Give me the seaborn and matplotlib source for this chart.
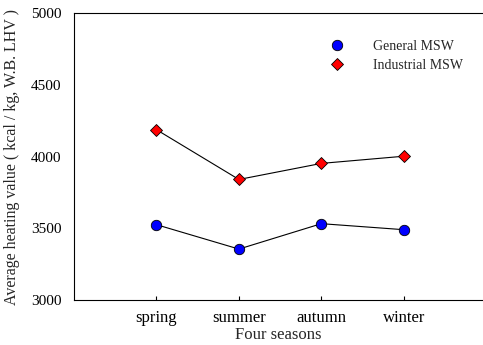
import matplotlib
matplotlib.use("Agg")
import matplotlib.pyplot as plt
from matplotlib.lines import Line2D
import seaborn as sns
import pandas as pd

seasons = ["spring", "summer", "autumn", "winter"]
general_msw = [3525, 3355, 3532, 3490]
industrial_msw = [4187, 3840, 3952, 4002]

sns.set_theme(style="ticks")
plt.rcParams["font.family"] = ["Liberation Serif", "DejaVu Serif"]

df = pd.DataFrame({
    "pos": list(range(len(seasons))) * 2,
    "value": general_msw + industrial_msw,
    "series": ["General MSW"] * 4 + ["Industrial MSW"] * 4,
})

fig = plt.figure(figsize=(4.83, 3.45), dpi=100)
ax = fig.add_axes([0.1532, 0.1304, 0.8468, 0.8319])

styles = {
    "General MSW": dict(marker="o", markerfacecolor="#0000ff", markersize=7.5),
    "Industrial MSW": dict(marker="D", markerfacecolor="#ff0000", markersize=6.5),
}
for name, sub in df.groupby("series"):
    sns.lineplot(data=sub, x="pos", y="value", ax=ax, color="black", linewidth=0.8,
                 markeredgecolor="black", markeredgewidth=0.6, legend=False,
                 **styles[name])

ax.set_xlim(-1.0, 3.96)
ax.set_ylim(3000, 5000)
ax.set_xticks(range(len(seasons)))
ax.set_xticklabels(seasons)
ax.set_yticks([3000, 3500, 4000, 4500, 5000])
ax.tick_params(axis="x", direction="in", length=3, width=0.8, labelsize=12,
               colors="black", pad=7)
ax.tick_params(axis="y", length=0, labelsize=11, colors="black", pad=9)
for s in ax.spines.values():
    s.set_linewidth(0.8)
    s.set_color("black")
ax.spines["right"].set_visible(False)

ax.set_xlabel("Four seasons", fontsize=12, labelpad=1)
ax.set_ylabel("Average heating value ( kcal / kg, W.B. LHV )", fontsize=11.5, labelpad=8)

handles = [
    Line2D([], [], linestyle="none", label="General MSW", markeredgecolor="black",
           markeredgewidth=0.6, **styles["General MSW"]),
    Line2D([], [], linestyle="none", label="Industrial MSW", markeredgecolor="black",
           markeredgewidth=0.6, **styles["Industrial MSW"]),
]
ax.legend(handles=handles, frameon=False, fontsize=10, loc="upper left",
          bbox_to_anchor=(0.595, 0.925), handletextpad=1.6, labelspacing=0.45,
          borderaxespad=0)

fig.savefig("out.png", dpi=100)
